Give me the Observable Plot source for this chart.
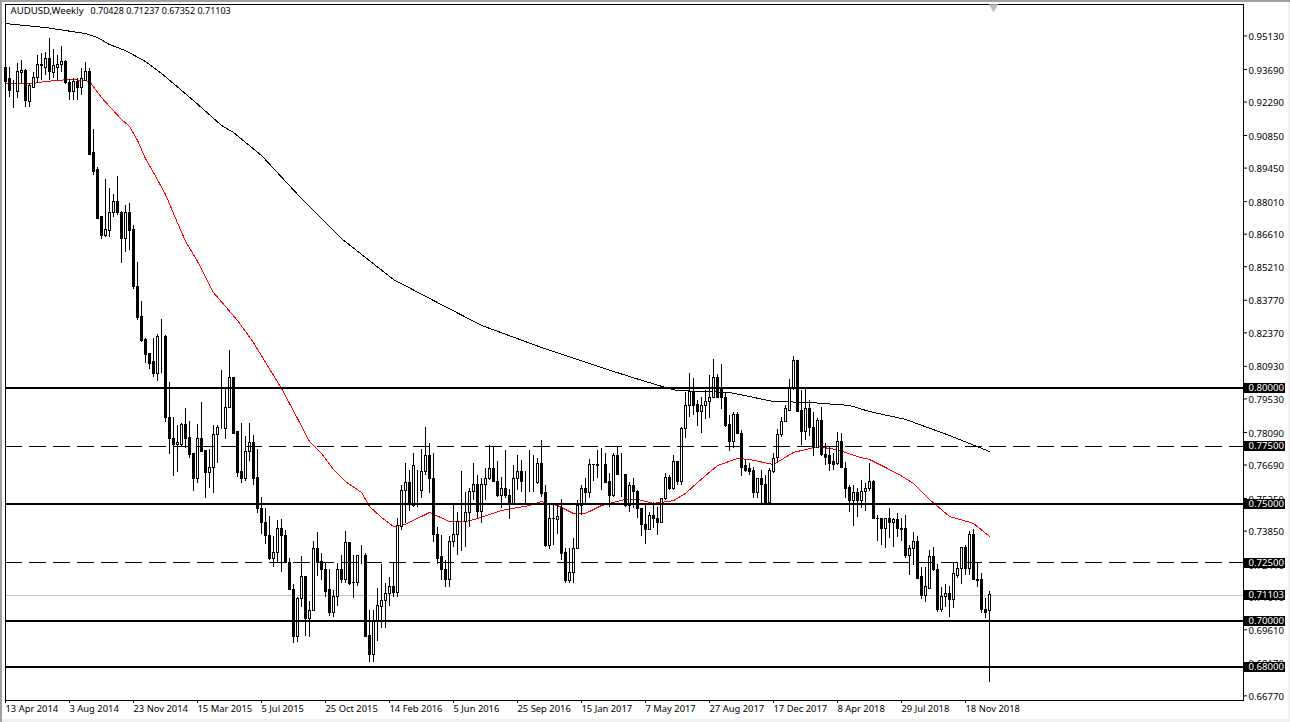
<!DOCTYPE html>
<html>
<head>
<meta charset="utf-8">
<script src="https://cdn.jsdelivr.net/npm/d3@7"></script>
<script src="https://cdn.jsdelivr.net/npm/@observablehq/plot@0.6"></script>
<style>
html,body{margin:0;padding:0;background:#fff;overflow:hidden}
#wrap{position:relative;width:1290px;height:722px;overflow:hidden}
#wrap svg{display:block}
#edge{position:absolute;left:0;top:0;width:1290px;height:722px;pointer-events:none;box-shadow:inset 2px 2px 0 #a0a0a0,inset -2px -3px 0 #f0f0f0}
</style>
</head>
<body>
<div id="wrap"><div id="edge"></div></div>
<script>
const opens = [.9377,.9330,.9304,.9270,.9352,.9364,.9231,.9291,.9334,.9386,
.9377,.9412,.9352,.9377,.9390,.9399,.9309,.9270,.9313,.9291,
.9321,.9360,.9008,.8935,.8733,.8655,.8673,.8750,.8801,.8750,
.8642,.8750,.8677,.8436,.8303,.8208,.8144,.8110,.8062,.8221,
.8221,.7873,.7779,.7757,.7757,.7843,.7783,.7718,.7611,.7779,
.7731,.7633,.7658,.7800,.7826,.7822,.7916,.8041,.7809,.7637,
.7611,.7727,.7762,.7615,.7482,.7418,.7366,.7267,.7293,.7396,
.7366,.7250,.7134,.6928,.7095,.7186,.7009,.7040,.7310,.7254,
.7220,.7130,.7031,.7100,.7220,.7177,.7336,.7164,.7164,.7280,
.7280,.6936,.6851,.6997,.7061,.7083,.7113,.7143,.7121,.7401,
.7559,.7590,.7495,.7559,.7559,.7637,.7706,.7611,.7370,.7272,
.7220,.7177,.7340,.7370,.7426,.7426,.7461,.7551,.7585,.7465,
.7585,.7611,.7654,.7598,.7534,.7564,.7534,.7499,.7611,.7637,
.7594,.7594,.7594,.7590,.7675,.7547,.7319,.7439,.7431,.7482,
.7289,.7169,.7203,.7310,.7491,.7568,.7547,.7671,.7667,.7663,
.7667,.7594,.7534,.7706,.7628,.7628,.7495,.7577,.7551,.7482,
.7413,.7388,.7448,.7439,.7422,.7525,.7615,.7568,.7684,.7598,
.7822,.7921,.7981,.7925,.7899,.7921,.7938,.7959,.8045,.7998,
.7959,.7839,.7770,.7882,.7804,.7663,.7650,.7645,.7547,.7607,
.7585,.7504,.7637,.7701,.7800,.7852,.7903,.7998,.8114,.7903,
.7813,.7908,.7830,.7744,.7860,.7714,.7706,.7680,.7675,.7770,
.7654,.7572,.7516,.7547,.7516,.7551,.7564,.7594,.7439,.7439,
.7396,.7435,.7418,.7431,.7396,.7392,.7280,.7306,.7340,.7186,
.7108,.7138,.7272,.7220,.7048,.7100,.7113,.7091,.7190,.7224,
.7314,.7224,.7370,.7177,.7173,.7048,.70428];
const closes = [.9317,.9278,.9304,.9356,.9364,.9235,.9296,.9334,.9386,.9382,
.9412,.9356,.9382,.9390,.9399,.9309,.9270,.9313,.9291,.9326,
.9360,.9003,.8930,.8728,.8655,.8677,.8754,.8801,.8750,.8642,
.8750,.8673,.8432,.8299,.8204,.8140,.8105,.8062,.8221,.8221,
.7873,.7779,.7753,.7762,.7843,.7779,.7714,.7611,.7779,.7727,
.7633,.7658,.7800,.7826,.7826,.7916,.8041,.7804,.7633,.7611,
.7727,.7762,.7611,.7482,.7418,.7366,.7267,.7293,.7396,.7366,
.7250,.7134,.6928,.7095,.7186,.7009,.7040,.7310,.7250,.7220,
.7125,.7031,.7104,.7220,.7177,.7336,.7156,.7160,.7280,.7280,
.6932,.6851,.6997,.7065,.7083,.7113,.7143,.7121,.7405,.7559,
.7590,.7499,.7663,.7559,.7641,.7706,.7611,.7370,.7267,.7216,
.7177,.7340,.7370,.7426,.7426,.7461,.7551,.7585,.7465,.7585,
.7611,.7654,.7598,.7534,.7564,.7534,.7499,.7611,.7637,.7594,
.7594,.7594,.7594,.7675,.7543,.7319,.7439,.7435,.7444,.7285,
.7169,.7207,.7310,.7495,.7568,.7547,.7671,.7667,.7663,.7663,
.7590,.7534,.7706,.7628,.7628,.7495,.7577,.7551,.7482,.7413,
.7388,.7448,.7439,.7422,.7525,.7615,.7568,.7680,.7598,.7822,
.7921,.7981,.7921,.7899,.7921,.7938,.7959,.8045,.7959,.7955,
.7835,.7770,.7882,.7804,.7658,.7645,.7641,.7547,.7607,.7585,
.7504,.7645,.7697,.7800,.7856,.7908,.7998,.8114,.7899,.7813,
.7908,.7830,.7744,.7860,.7710,.7701,.7675,.7671,.7766,.7658,
.7568,.7516,.7547,.7516,.7551,.7564,.7594,.7439,.7435,.7396,
.7435,.7418,.7431,.7392,.7388,.7280,.7306,.7340,.7181,.7108,
.7143,.7272,.7216,.7048,.7100,.7113,.7091,.7199,.7224,.7314,
.7224,.7370,.7177,.7169,.7044,.7035,.71103];
const highs = [.9420,.9377,.9321,.9394,.9407,.9369,.9309,.9356,.9429,.9437,
.9442,.9502,.9455,.9429,.9468,.9407,.9326,.9330,.9330,.9373,
.9399,.9373,.9111,.8948,.8737,.8896,.8857,.8832,.8909,.8758,
.8784,.8793,.8698,.8539,.8372,.8213,.8148,.8213,.8230,.8294,
.8226,.8024,.7873,.7839,.7847,.7912,.7856,.7718,.7843,.7938,
.7731,.7735,.7839,.7839,.8075,.7998,.8161,.8041,.7809,.7847,
.7791,.7847,.7796,.7735,.7530,.7482,.7448,.7362,.7431,.7435,
.7388,.7267,.7156,.7100,.7276,.7186,.7083,.7340,.7379,.7289,
.7246,.7220,.7130,.7246,.7280,.7383,.7336,.7280,.7280,.7323,
.7289,.7044,.7044,.7138,.7242,.7160,.7186,.7250,.7439,.7581,
.7675,.7645,.7718,.7645,.7735,.7830,.7762,.7718,.7401,.7366,
.7259,.7362,.7495,.7465,.7641,.7551,.7568,.7675,.7624,.7611,
.7654,.7753,.7749,.7684,.7615,.7731,.7564,.7667,.7710,.7688,
.7641,.7731,.7710,.7697,.7774,.7581,.7499,.7495,.7503,.7521,
.7310,.7310,.7353,.7516,.7581,.7611,.7693,.7671,.7731,.7740,
.7718,.7633,.7718,.7749,.7718,.7628,.7594,.7611,.7559,.7482,
.7495,.7465,.7508,.7486,.7525,.7633,.7624,.7710,.7684,.7830,
.7981,.8062,.8041,.7946,.7959,.7989,.8054,.8122,.8058,.8101,
.7981,.7882,.7895,.7895,.7817,.7688,.7675,.7658,.7607,.7645,
.7624,.7654,.7718,.7822,.7873,.7925,.8037,.8135,.8118,.7989,
.7994,.7946,.7895,.7869,.7916,.7762,.7744,.7718,.7809,.7804,
.7680,.7581,.7581,.7568,.7602,.7590,.7675,.7602,.7452,.7439,
.7439,.7482,.7439,.7461,.7439,.7452,.7323,.7379,.7362,.7229,
.7229,.7302,.7314,.7242,.7143,.7156,.7147,.7250,.7250,.7314,
.7323,.7383,.7392,.7246,.7203,.7095,.71237];
const lows = [.9309,.9248,.9201,.9244,.9309,.9205,.9205,.9287,.9309,.9321,
.9343,.9321,.9330,.9321,.9356,.9304,.9235,.9235,.9235,.9257,
.9321,.8999,.8913,.8724,.8638,.8647,.8647,.8733,.8741,.8535,
.8582,.8591,.8423,.8290,.8195,.8105,.8080,.8045,.8028,.8062,
.7852,.7714,.7620,.7637,.7749,.7740,.7697,.7555,.7590,.7727,
.7525,.7568,.7547,.7675,.7822,.7779,.7916,.7804,.7615,.7590,
.7598,.7684,.7581,.7461,.7370,.7327,.7259,.7229,.7250,.7207,
.7246,.7130,.6902,.6906,.7057,.6932,.6928,.7040,.7190,.7173,
.7100,.7018,.7014,.7061,.7160,.7160,.7151,.7095,.7147,.7241,
.6928,.6820,.6820,.6911,.6966,.6966,.7061,.7100,.7100,.7388,
.7418,.7469,.7486,.7486,.7525,.7624,.7547,.7336,.7241,.7173,
.7143,.7143,.7314,.7280,.7297,.7314,.7401,.7516,.7439,.7418,
.7516,.7602,.7594,.7530,.7482,.7525,.7435,.7499,.7559,.7551,
.7495,.7551,.7551,.7585,.7530,.7314,.7306,.7323,.7370,.7259,
.7160,.7160,.7160,.7306,.7452,.7504,.7525,.7598,.7611,.7559,
.7590,.7486,.7530,.7624,.7530,.7486,.7465,.7482,.7439,.7362,
.7327,.7388,.7396,.7366,.7418,.7516,.7559,.7559,.7581,.7581,
.7783,.7873,.7882,.7835,.7804,.7865,.7869,.7959,.7955,.7908,
.7830,.7727,.7740,.7800,.7620,.7637,.7624,.7525,.7525,.7504,
.7504,.7504,.7633,.7680,.7787,.7852,.7903,.7989,.7895,.7753,
.7774,.7792,.7706,.7740,.7706,.7667,.7641,.7645,.7667,.7654,
.7525,.7465,.7405,.7444,.7482,.7469,.7555,.7435,.7340,.7323,
.7310,.7353,.7314,.7357,.7340,.7267,.7194,.7237,.7181,.7091,
.7078,.7138,.7212,.7035,.7035,.7057,.7014,.7052,.7181,.7156,
.7194,.7194,.7173,.7143,.7031,.7009,.67352];

// 50-period average, read at bar numbers
const redBars = [0,7,10,16,20,21,24,29,31,33,35,37,40,42,45,48,52,58,60,62,65,69,73,76,79,82,85,89,91,94,97,100,106,111,115,118,124,131,134,138,142,145,149,155,158,162,167,170,173,178,183,186,192,197,203,208,213,216,223,227,231,236,242,246];
const redValues = [.9309,.9309,.9317,.9326,.9321,.9317,.9248,.9154,.9124,.9064,.8986,.8926,.8832,.8750,.8630,.8544,.8410,.8290,.8243,.8195,.8110,.7998,.7869,.7770,.7719,.7650,.7598,.7551,.7491,.7444,.7405,.7414,.7465,.7426,.7426,.7439,.7474,.7495,.7512,.7495,.7461,.7461,.7495,.7521,.7521,.7504,.7516,.7547,.7594,.7667,.7697,.7693,.7671,.7723,.7748,.7735,.7705,.7693,.7632,.7590,.7521,.7448,.7418,.7362];
// 200-period average, read at bar numbers
const blackBars = [0,10,20,23,26,30,35,39,44,49,54,57,64,74,84,97,106,119,134,149,156,165,168,181,192,201,211,216,225,236,246];
const blackValues = [.9566,.9549,.9523,.9506,.9476,.9450,.9403,.9352,.9279,.9205,.9128,.9098,.8999,.8814,.8642,.8466,.8385,.8269,.8174,.8088,.8049,.8002,.7989,.7981,.7942,.7938,.7925,.7899,.7865,.7796,.7727];

const solidLevels = [0.80, 0.75, 0.70, 0.68];
const dashedLevels = [0.775, 0.725];
const lastPrice = [0.71103];
const boxLevels = [0.80, 0.775, 0.75, 0.725, 0.71103, 0.70, 0.68];

const yTickValues = [.9513,.9369,.9229,.9085,.8945,.8801,.8661,.8521,.8377,.8237,.8093,.7953,.7809,.7669,.7525,.7385,.7241,.7101,.6961,.6817,.6677];
const xTickBars = [0,16,32,48,64,80,96,112,128,144,160,176,192,208,224,240];
const xTickLabels = ["13 Apr 2014","3 Aug 2014","23 Nov 2014","15 Mar 2015","5 Jul 2015","25 Oct 2015","14 Feb 2016","5 Jun 2016","25 Sep 2016","15 Jan 2017","7 May 2017","27 Aug 2017","17 Dec 2017","8 Apr 2018","29 Jul 2018","18 Nov 2018"];
const titleName = ["AUDUSD,Weekly"];
const titleValues = ["0.70428 0.71237 0.67352 0.71103"];

const bars = opens.map((o, i) => ({i, o, c: closes[i], h: highs[i], l: lows[i]}));
const red = redBars.map((i, k) => ({i, v: redValues[k]}));
const black = blackBars.map((i, k) => ({i, v: blackValues[k]}));
const fmt5 = d3.format(".5f");
const font = "'Noto Sans', sans-serif";

const chart = Plot.plot({
  width: 1290,
  height: 722,
  marginLeft: 5,
  marginRight: 47,
  marginTop: 4,
  marginBottom: 22,
  style: {background: "transparent", fontFamily: font, fontSize: "9.6px", color: "#000"},
  x: {type: "linear", domain: [0, 309.5]},
  y: {type: "linear", domain: [0.66571, 0.96480]},
  marks: [
    Plot.axisY({anchor: "right", ticks: yTickValues, tickFormat: () => "", tickSize: 3, label: null}),
    Plot.text(yTickValues, {x: () => 310.75, y: d => d, dy: 1, text: fmt5, fill: "#000", textAnchor: "start", fontSize: 9.6}),
    Plot.axisX({anchor: "bottom", ticks: xTickBars, tickFormat: d => xTickLabels[xTickBars.indexOf(d)], tickSize: 3, tickPadding: 2, textAnchor: "start", label: null, fontSize: 9.4}),
    Plot.ruleY(lastPrice, {stroke: "#c0c0c0", strokeWidth: 1, shapeRendering: "crispEdges"}),
    Plot.line(red, {x: "i", y: "v", stroke: "#ff0000", strokeWidth: 1, shapeRendering: "crispEdges"}),
    Plot.line(black, {x: "i", y: "v", stroke: "#000", strokeWidth: 1, shapeRendering: "crispEdges"}),
    Plot.ruleX(bars, {x: "i", y1: "l", y2: "h", stroke: "#000", strokeWidth: 1, shapeRendering: "crispEdges"}),
    Plot.rect(bars, {
      x1: d => d.i - 0.25,
      x2: d => d.i + 0.25,
      y1: "o",
      y2: "c",
      fill: d => d.c >= d.o ? "#fff" : "#000",
      stroke: "#000",
      strokeWidth: 1,
      shapeRendering: "crispEdges"
    }),
    Plot.ruleY(solidLevels, {stroke: "#000", strokeWidth: 2, shapeRendering: "crispEdges"}),
    Plot.ruleY(dashedLevels, {stroke: "#000", strokeWidth: 1, strokeDasharray: "17,7", shapeRendering: "crispEdges"}),
    Plot.frame({stroke: "#000", shapeRendering: "crispEdges"}),
    Plot.ruleY(boxLevels, {x1: 309.75, x2: 320, stroke: "#000", strokeWidth: 10, shapeRendering: "crispEdges"}),
    Plot.text(boxLevels, {x: () => 310.75, y: d => d, text: fmt5, fill: "#fff", textAnchor: "start", fontSize: 9.6}),
    Plot.dot([247], {x: d => d, y: () => 0.9637, symbol: "triangle", rotate: 180, r: 3.5, fill: "#c0c0c0"}),
    Plot.text(titleName, {frameAnchor: "top-left", dx: 5, dy: 3, fill: "#000", fontSize: 9.6}),
    Plot.text(titleValues, {frameAnchor: "top-left", dx: 85, dy: 3, fill: "#000", fontSize: 9})
  ]
});
document.getElementById("wrap").prepend(chart);
</script>
</body>
</html>
